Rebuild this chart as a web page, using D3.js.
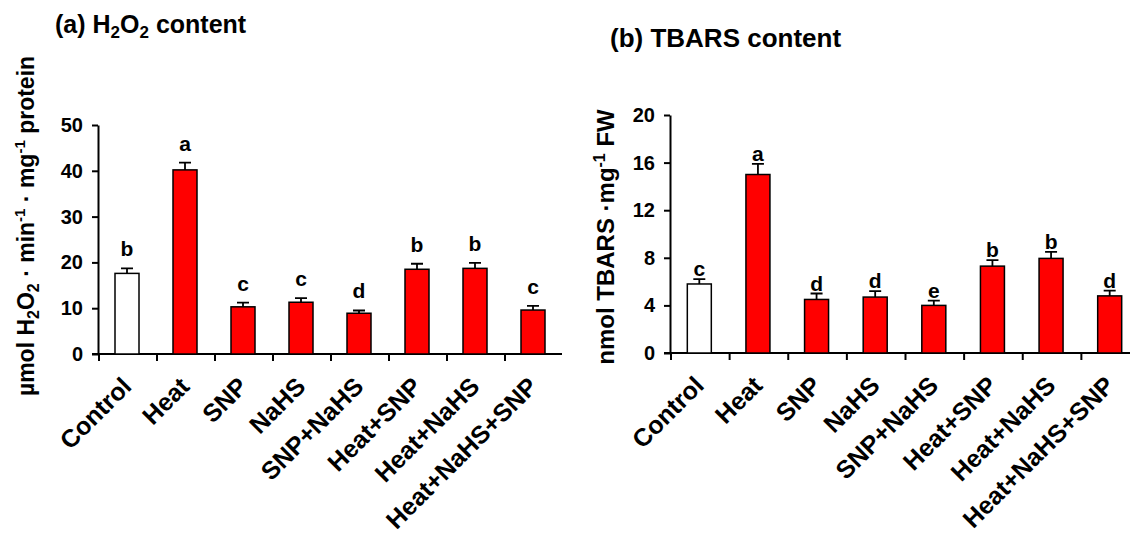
<!DOCTYPE html>
<html>
<head>
<meta charset="utf-8">
<script src="https://cdn.jsdelivr.net/npm/d3@7"></script>
<style>
    body { margin: 0; background: #fff; }
    svg { font-family: "Liberation Sans", Arial, sans-serif; font-weight: bold; }
</style>
</head>
<body>
<div id="chartArea"></div>
<script>
// treatments, same for both panels
var categories = ["Control", "Heat", "SNP", "NaHS", "SNP+NaHS", "Heat+SNP", "Heat+NaHS", "Heat+NaHS+SNP"];

// (a) H2O2 content
var h2o2Values = [17.6, 40.2, 10.3, 11.3, 8.9, 18.5, 18.7, 9.6];
var h2o2Errors = [1.1, 1.6, 0.9, 0.9, 0.6, 1.2, 1.2, 0.9];
var h2o2Letters = ["b", "a", "c", "c", "d", "b", "b", "c"];
var h2o2Ticks = [0, 10, 20, 30, 40, 50];

// (b) TBARS content
var tbarsValues = [5.8, 15.0, 4.5, 4.7, 4.0, 7.3, 7.95, 4.8];
var tbarsErrors = [0.4, 0.9, 0.5, 0.5, 0.4, 0.5, 0.55, 0.45];
var tbarsLetters = ["c", "a", "d", "d", "e", "b", "b", "d"];
var tbarsTicks = [0, 4, 8, 12, 16, 20];

var width = 1130;
var height = 534;

var svg = d3.select("#chartArea")
    .append("svg")
    .attr("width", width)
    .attr("height", height);

function drawPanel(opt) {
    var g = svg.append("g");

    var xScale = d3.scaleBand()
        .domain(categories)
        .range([opt.left, opt.right])
        .padding(0);
    var yScale = d3.scaleLinear()
        .domain([0, opt.yMax])
        .range([opt.bottom, opt.top]);
    var barWidth = 24;

    //y轴
    var gy = g.append("g")
        .attr("transform", "translate(" + opt.left + ",0)")
        .call(d3.axisLeft(yScale).tickValues(opt.ticks).tickSize(6).tickSizeOuter(0).tickPadding(9));
    gy.selectAll("path, line").attr("stroke", "#000").attr("stroke-width", 2);
    gy.selectAll("text").attr("font-size", 20).attr("font-family", null).attr("fill", "#000");

    //x轴线和刻度（刻度在类别之间）
    g.append("line")
        .attr("x1", opt.left - 6).attr("x2", opt.right)
        .attr("y1", opt.bottom).attr("y2", opt.bottom)
        .attr("stroke", "#000").attr("stroke-width", 2);
    g.selectAll(".xtick")
        .data(categories)
        .enter().append("line")
        .attr("x1", function (d) { return xScale(d) + 1; })
        .attr("x2", function (d) { return xScale(d) + 1; })
        .attr("y1", opt.bottom).attr("y2", opt.bottom + 7)
        .attr("stroke", "#000").attr("stroke-width", 2);

    //柱子
    g.selectAll(".bar")
        .data(opt.values)
        .enter().append("rect")
        .attr("x", function (d, i) { return xScale(categories[i]) + (xScale.bandwidth() - barWidth) / 2; })
        .attr("y", function (d) { return yScale(d); })
        .attr("width", barWidth)
        .attr("height", function (d) { return opt.bottom - yScale(d); })
        .attr("fill", function (d, i) { return i === 0 ? "#fff" : "#ff0000"; })
        .attr("stroke", "#000")
        .attr("stroke-width", 1.5);

    //误差线（只画上半部分）
    var cx = function (i) { return xScale(categories[i]) + xScale.bandwidth() / 2; };
    g.selectAll(".err")
        .data(opt.values)
        .enter().append("path")
        .attr("d", function (d, i) {
            var y0 = yScale(d), y1 = yScale(d + opt.errors[i]);
            return "M" + cx(i) + "," + y0 + "V" + y1 + "M" + (cx(i) - 6) + "," + y1 + "H" + (cx(i) + 6);
        })
        .attr("fill", "none")
        .attr("stroke", "#000")
        .attr("stroke-width", 1.8);

    //显著性字母
    g.selectAll(".letter")
        .data(opt.letters)
        .enter().append("text")
        .attr("x", function (d, i) { return cx(i); })
        .attr("y", function (d, i) { return yScale(opt.values[i] + opt.errors[i]) - opt.letterGap; })
        .attr("text-anchor", "middle")
        .attr("font-size", 21)
        .text(function (d) { return d; });

    //类别标签，旋转45度
    g.selectAll(".xlabel")
        .data(categories)
        .enter().append("text")
        .attr("text-anchor", "end")
        .attr("font-size", 25)
        .attr("transform", function (d, i) {
            return "translate(" + (cx(i) + 6) + "," + (opt.bottom + 34) + ") rotate(-45)";
        })
        .text(function (d) { return d; });

    return g;
}

var gA = drawPanel({
    left: 98, right: 562, top: 125, bottom: 354, yMax: 50,
    ticks: h2o2Ticks, values: h2o2Values, errors: h2o2Errors, letters: h2o2Letters, letterGap: 12
});
var gB = drawPanel({
    left: 670, right: 1139, top: 115, bottom: 353, yMax: 20,
    ticks: tbarsTicks, values: tbarsValues, errors: tbarsErrors, letters: tbarsLetters, letterGap: 3
});

//标题
var tA = svg.append("text").attr("x", 55).attr("y", 33).attr("font-size", 25);
tA.append("tspan").text("(a) H");
tA.append("tspan").attr("font-size", 17).attr("dy", 5).text("2");
tA.append("tspan").attr("dy", -5).text("O");
tA.append("tspan").attr("font-size", 17).attr("dy", 5).text("2");
tA.append("tspan").attr("dy", -5).text(" content");

svg.append("text").attr("x", 610).attr("y", 47).attr("font-size", 26).text("(b) TBARS content");

//纵轴标题
var yA = svg.append("text")
    .attr("transform", "translate(34,226) rotate(-90)")
    .attr("text-anchor", "middle")
    .attr("font-size", 23);
yA.append("tspan").text("µmol H");
yA.append("tspan").attr("font-size", 16).attr("dy", 5).text("2");
yA.append("tspan").attr("dy", -5).text("O");
yA.append("tspan").attr("font-size", 16).attr("dy", 5).text("2");
yA.append("tspan").attr("dy", -5).text(" · min");
yA.append("tspan").attr("font-size", 15).attr("dy", -9).text("-1");
yA.append("tspan").attr("dy", 9).text(" · mg");
yA.append("tspan").attr("font-size", 15).attr("dy", -9).text("-1");
yA.append("tspan").attr("dy", 9).text(" protein");

var yB = svg.append("text")
    .attr("transform", "translate(614,237) rotate(-90)")
    .attr("text-anchor", "middle")
    .attr("font-size", 24);
yB.append("tspan").text("nmol TBARS ·mg");
yB.append("tspan").attr("font-size", 16).attr("dy", -9).text("-1");
yB.append("tspan").attr("dy", 9).text(" FW");
</script>
</body>
</html>
